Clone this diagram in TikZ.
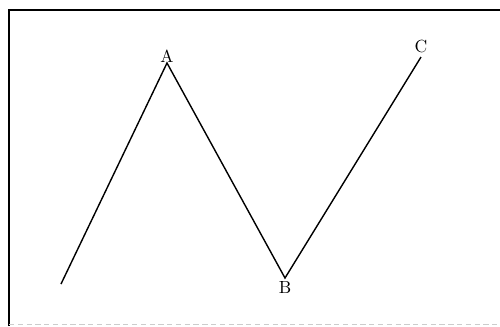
\documentclass[tikz,border=0pt]{standalone}
\usepackage{tikz}
\usetikzlibrary{positioning}

\tikzset{
    pt/.style={font=\normalsize, inner sep=1pt},
    zig/.style={line width=0.8pt, line join=miter},
    frame/.style={line width=1.3pt}
}

\begin{document}
\begin{tikzpicture}[x=0.02cm, y=-0.02cm]
    \useasboundingbox (0,0) rectangle (500,326);

    % frame (cut off at the right and bottom)
    \draw[frame] (9,326) -- (9,10) -- (500,10);
    \draw[gray!40, line width=0.5pt, dash pattern=on 3pt off 2pt] (9,324) -- (500,324);

    % turning points
    \coordinate (start) at (61,284);
    \coordinate (A) at (167,63);
    \coordinate (B) at (285,278);
    \coordinate (C) at (421,57);

    \node[pt, above=-1pt of A] (labA) {A};
    \node[pt, below=1pt of B] (labB) {B};
    \node[pt, above=1pt of C] (labC) {C};

    % the zigzag
    \draw[zig] (start) -- (A) -- (B) -- (C);
\end{tikzpicture}
\end{document}
